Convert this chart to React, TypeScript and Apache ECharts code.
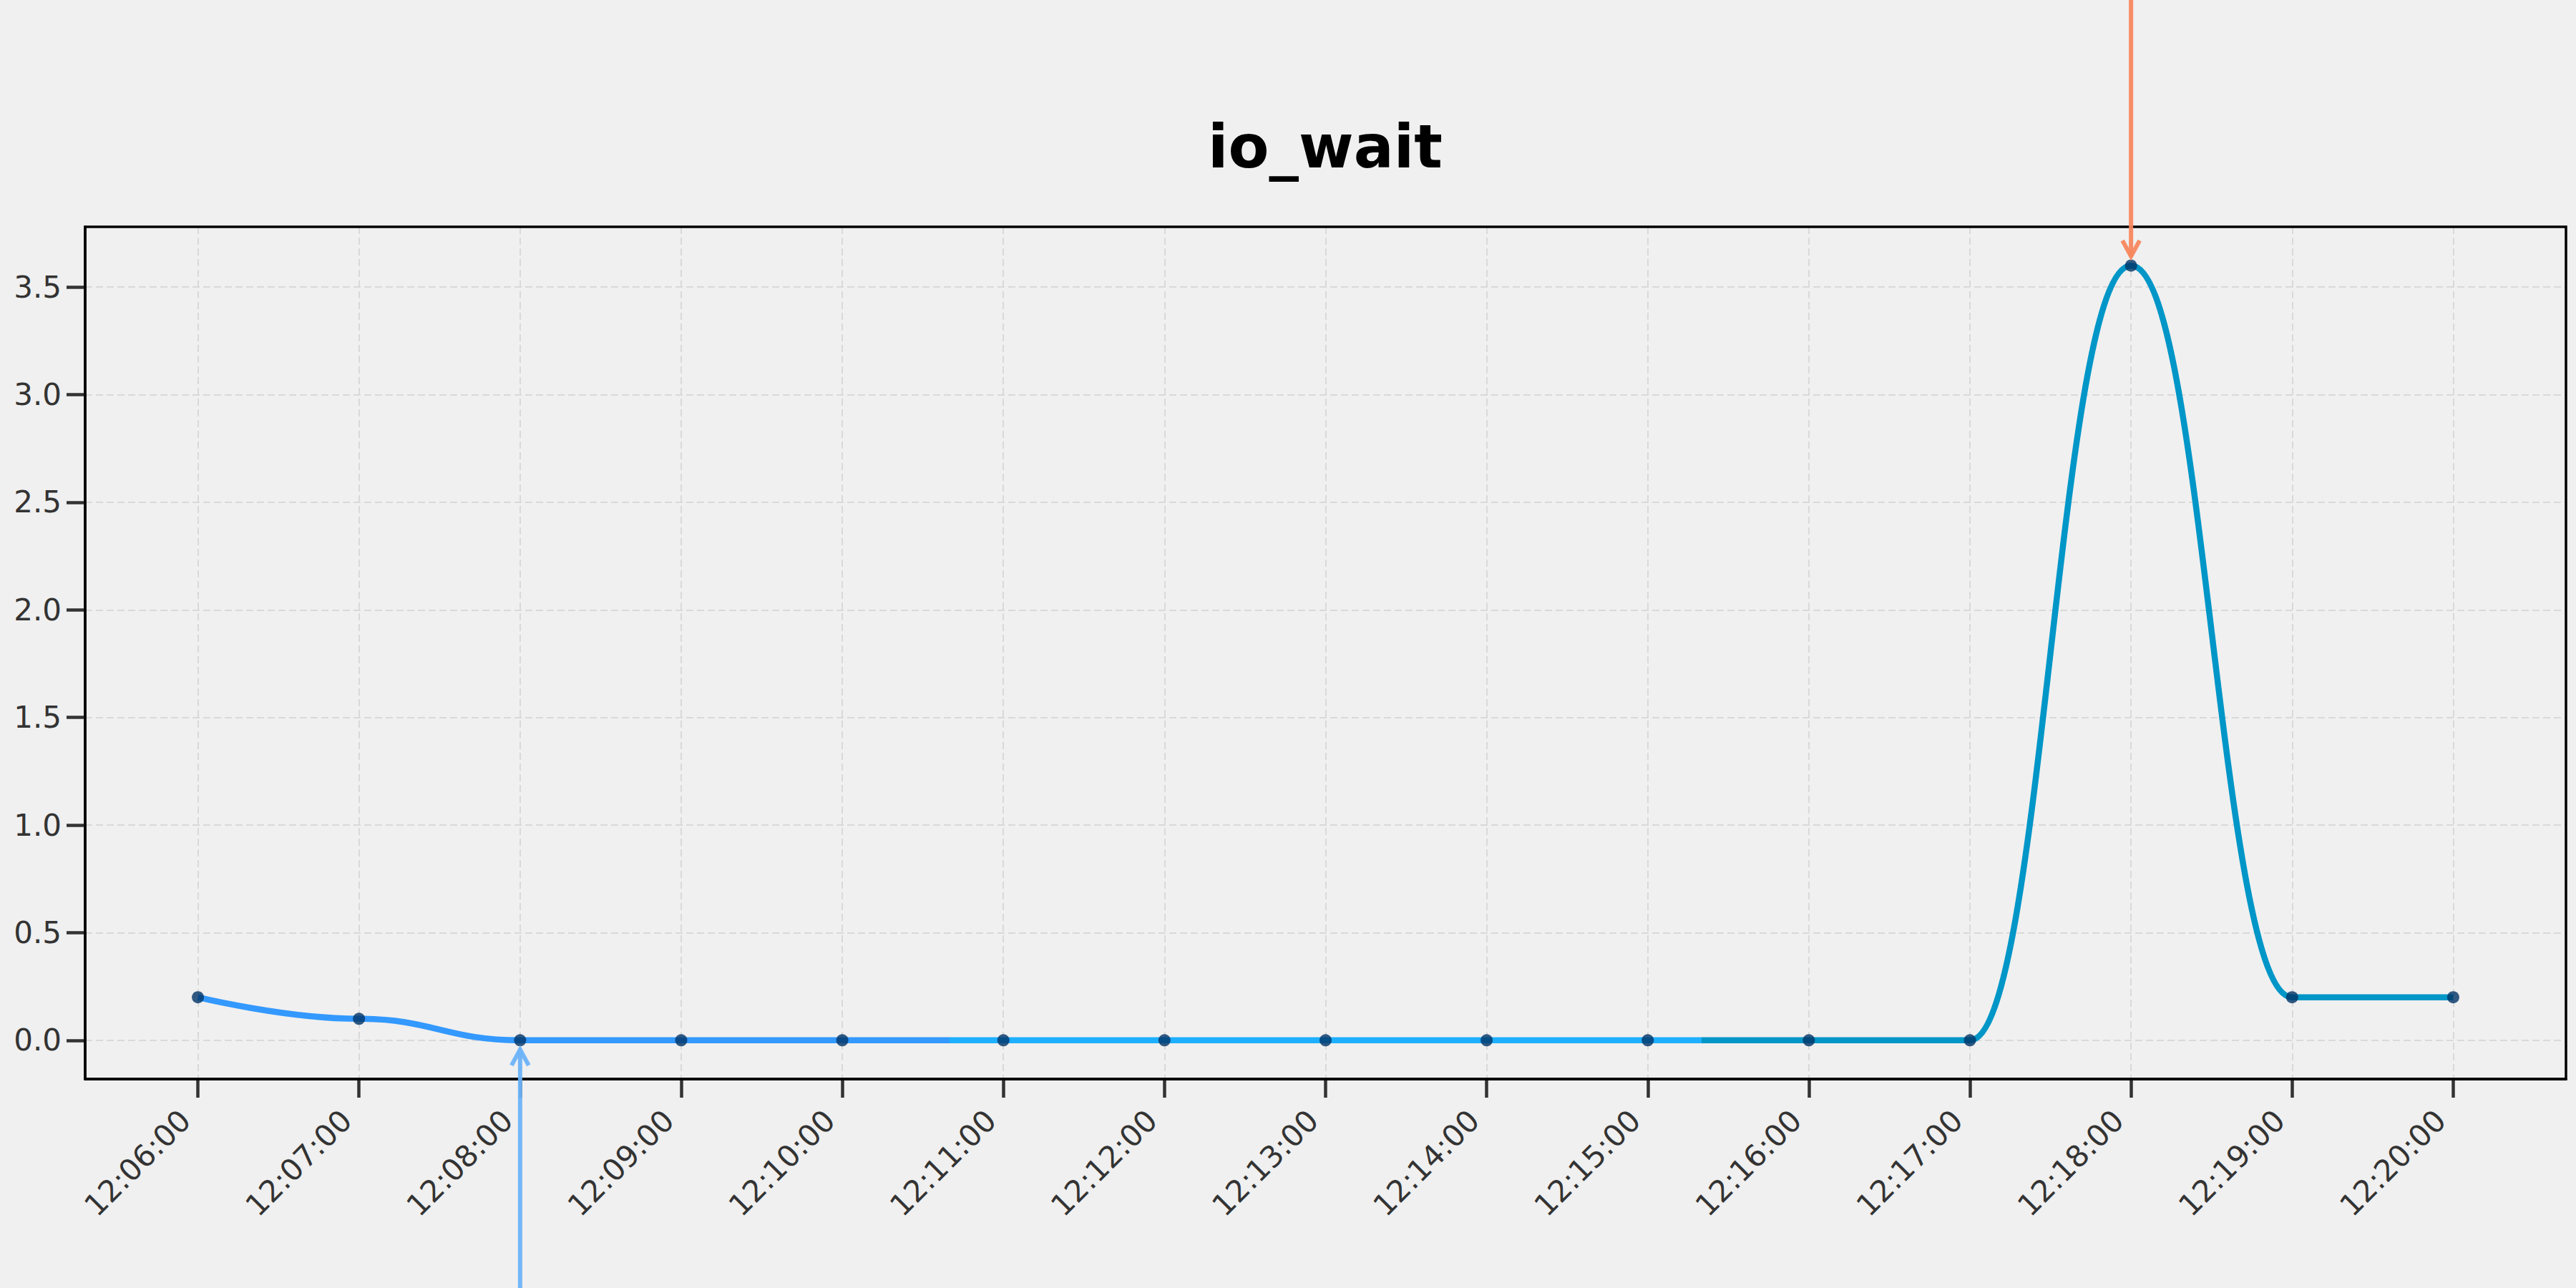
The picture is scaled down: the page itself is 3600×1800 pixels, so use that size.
import React, { useEffect, useRef } from 'react';
import * as echarts from 'echarts';

const chartTitle = 'io_wait';
const times = [
  '12:06:00', '12:07:00', '12:08:00', '12:09:00', '12:10:00',
  '12:11:00', '12:12:00', '12:13:00', '12:14:00', '12:15:00',
  '12:16:00', '12:17:00', '12:18:00', '12:19:00', '12:20:00',
];
const ioWait = [0.2, 0.1, 0, 0, 0, 0, 0, 0, 0, 0, 0, 0, 3.6, 0.2, 0.2];
const yTicks = [0, 0.5, 1, 1.5, 2, 2.5, 3, 3.5];
const segmentColors = ['#3399ff', '#1eb0ff', '#0096c7'];
const maxArrowColor = '#f7875e';
const minArrowColor = '#6db3f8';
const markerColor = '#003366';

const toMin = (t: string) => {
  const [h, m, s] = t.split(':').map(Number);
  return h * 60 + m + s / 60;
};
const pad2 = (n: number) => String(n).padStart(2, '0');
const fromMin = (v: number) => {
  const totalSec = Math.round(v * 60);
  const h = Math.floor(totalSec / 3600);
  const m = Math.floor((totalSec % 3600) / 60);
  const s = totalSec % 60;
  return `${pad2(h)}:${pad2(m)}:${pad2(s)}`;
};

export default function App() {
  const ref = useRef<HTMLDivElement>(null);
  useEffect(() => {
    if (!ref.current) return;
    const chart = echarts.init(ref.current, undefined, { renderer: 'svg' });
    const xs = times.map(toMin);
    const points = xs.map((x, i) => [x, ioWait[i]]);
    const xMinD = Math.min(...xs);
    const xMaxD = Math.max(...xs);
    const xr = xMaxD - xMinD;
    const yMinD = Math.min(...ioWait);
    const yMaxD = Math.max(...ioWait);
    const yr = yMaxD - yMinD;
    const b1 = xMinD + xr / 3;
    const b2 = xMinD + (2 * xr) / 3;
    const font = 'DejaVu Sans';

    chart.setOption({
      animation: false,
      backgroundColor: '#f0f0f0',
      title: {
        text: chartTitle,
        left: 1847,
        top: 159,
        textAlign: 'center',
        textVerticalAlign: 'top',
        textStyle: { fontFamily: font, fontSize: 83, fontWeight: 'bold', color: '#000' },
      },
      grid: {
        left: 119, right: 14, top: 317, bottom: 292,
        show: true, borderColor: '#000', borderWidth: 3.5, backgroundColor: 'transparent',
        z: 10,
      },
      visualMap: {
        show: false,
        type: 'piecewise',
        dimension: 0,
        seriesIndex: 0,
        pieces: [
          { lt: b1, color: segmentColors[0] },
          { gte: b1, lt: b2, color: segmentColors[1] },
          { gte: b2, color: segmentColors[2] },
        ],
      },
      xAxis: {
        type: 'value',
        min: xMinD - 0.05 * xr,
        max: xMaxD + 0.05 * xr,
        axisLine: { show: true, onZero: false, lineStyle: { color: '#000', width: 3.5 } },
        axisTick: {
          show: true, length: 26, customValues: xs,
          lineStyle: { color: '#333', width: 4.5 },
        },
        axisLabel: {
          customValues: xs,
          rotate: 45,
          margin: 33,
          padding: [0, 25, 0, 0],
          fontFamily: font,
          fontSize: 42,
          color: '#333',
          formatter: (v: number) => fromMin(v),
        },
        splitLine: {
          show: true,
          customValues: xs,
          lineStyle: { color: '#d9d9d9', width: 2, type: [10, 5] },
        },
      },
      yAxis: {
        type: 'value',
        min: yMinD - 0.05 * yr,
        max: yMaxD + 0.05 * yr,
        axisLine: { show: true, onZero: false, lineStyle: { color: '#000', width: 3.5 } },
        axisTick: {
          show: true, length: 26, customValues: yTicks,
          lineStyle: { color: '#333', width: 4.5 },
        },
        axisLabel: {
          customValues: yTicks,
          margin: 33,
          fontFamily: font,
          fontSize: 42,
          color: '#333',
          formatter: (v: number) => v.toFixed(1),
        },
        splitLine: {
          show: true,
          customValues: yTicks,
          lineStyle: { color: '#d9d9d9', width: 2, type: [10, 5] },
        },
      },
      series: [
        {
          type: 'line',
          data: points,
          smooth: 0.45,
          smoothMonotone: 'x',
          showSymbol: false,
          lineStyle: { width: 8.5 },
          z: 3,
        },
        {
          type: 'scatter',
          data: points,
          symbolSize: 17,
          itemStyle: { color: markerColor },
          z: 4,
        },
      ],
    });

    const maxIdx = ioWait.indexOf(yMaxD);
    const minIdx = ioWait.indexOf(yMinD);
    const [px, py] = chart.convertToPixel({ gridIndex: 0 }, [xs[maxIdx], ioWait[maxIdx]]) as number[];
    const [bx, by] = chart.convertToPixel({ gridIndex: 0 }, [xs[minIdx], ioWait[minIdx]]) as number[];
    const gap = 13;
    const hw = 12;
    const hh = 22;
    const H = chart.getHeight();
    chart.setOption({
      graphic: [
        {
          type: 'line', z: 100,
          shape: { x1: px, y1: 0, x2: px, y2: py - gap },
          style: { stroke: maxArrowColor, lineWidth: 6, opacity: 0.95 },
        },
        {
          type: 'polyline', z: 100,
          shape: { points: [[px - hw, py - gap - hh], [px, py - gap], [px + hw, py - gap - hh]] },
          style: { stroke: maxArrowColor, lineWidth: 6, fill: 'none', opacity: 0.95 },
        },
        {
          type: 'line', z: 100,
          shape: { x1: bx, y1: H, x2: bx, y2: by + gap },
          style: { stroke: minArrowColor, lineWidth: 6, opacity: 0.95 },
        },
        {
          type: 'polyline', z: 100,
          shape: { points: [[bx - hw, by + gap + hh], [bx, by + gap], [bx + hw, by + gap + hh]] },
          style: { stroke: minArrowColor, lineWidth: 6, fill: 'none', opacity: 0.95 },
        },
      ],
    });

    return () => chart.dispose();
  }, []);
  return (
    <div
      ref={ref}
      style={{ position: 'absolute', left: 0, top: 0, width: 3600, height: 1800, background: '#f0f0f0' }}
    />
  );
}
